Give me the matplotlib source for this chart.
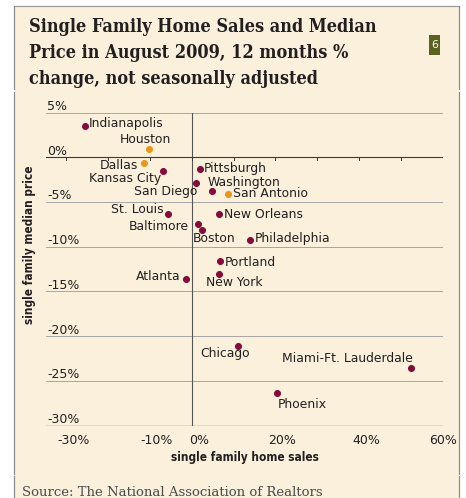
import matplotlib
matplotlib.use("Agg")
import matplotlib.pyplot as plt
from matplotlib.transforms import ScaledTranslation
from matplotlib.lines import Line2D
from matplotlib.patches import Rectangle

# data: 12-month % change, August 2009
cities = ["Indianapolis", "Houston", "Dallas", "Kansas City", "San Diego",
          "Pittsburgh", "Washington", "San Antonio", "St. Louis", "New Orleans",
          "Baltimore", "Boston", "Philadelphia", "Portland", "New York",
          "Atlanta", "Chicago", "Miami-Ft. Lauderdale", "Phoenix"]
sales = [-25.6, -10.1, -11.5, -6.8, 1.0, 2.0, 4.8, 8.7, -5.7, 6.4,
         1.5, 2.5, 13.9, 6.8, 6.4, -1.4, 11.1, 52.3, 20.3]
price = [3.5, 0.9, -0.6, -1.5, -2.9, -1.3, -3.8, -4.1, -6.3, -6.3,
         -7.5, -8.1, -9.3, -11.6, -13.1, -13.6, -21.1, -23.6, -26.4]
texas = ["Houston", "Dallas", "San Antonio"]

x_ticks = [-30, -10, 0, 20, 40, 60]
x_minor = [-30, -20, -10, 0, 10, 20, 30, 40, 50, 60]
y_ticks = [5, 0, -5, -10, -15, -20, -25, -30]

# label offsets in px (dx, dy, ha, va)
label_pos = {
    "Indianapolis": (4, 2, "left", "center"),
    "Houston": (-4, 10, "center", "center"),
    "Dallas": (-5, -3, "right", "center"),
    "Kansas City": (-2, -8, "right", "center"),
    "San Diego": (1, -8, "right", "center"),
    "Pittsburgh": (4, 0, "left", "center"),
    "Washington": (-4, 9, "left", "center"),
    "San Antonio": (5, 0, "left", "center"),
    "St. Louis": (-4, 4, "right", "center"),
    "New Orleans": (5, -1, "left", "center"),
    "Baltimore": (-9, -2, "right", "center"),
    "Boston": (-9, -9, "left", "center"),
    "Philadelphia": (5, 2, "left", "center"),
    "Portland": (5, -2, "left", "center"),
    "New York": (-13, -8, "left", "center"),
    "Atlanta": (-5, 2, "right", "center"),
    "Chicago": (-13, -8, "center", "center"),
    "Miami-Ft. Lauderdale": (2, 10, "right", "center"),
    "Phoenix": (1, -11, "left", "center"),
}

MAROON = "#840c3c"
ORANGE = "#e8961c"
BG = "#faf0dc"
TEXT = "#231f20"

W, H = 466, 498
fig = plt.figure(figsize=(W / 72, H / 72), dpi=72, facecolor="white")


def fx(px):
    return px / W


def fy(py):
    return 1 - py / H


# cream panel and frame
fig.patches.append(Rectangle((fx(14), 0), fx(459) - fx(14), fy(6), transform=fig.transFigure,
                             facecolor=BG, edgecolor="none", zorder=-5))
fig.add_artist(Line2D([fx(14), fx(459)], [fy(6), fy(6)], color="#9a9a9a", lw=1.2))
for x0 in (14, 459):
    for y0, y1 in ((6, 89), (92, 474), (476, 498)):
        fig.add_artist(Line2D([fx(x0), fx(x0)], [fy(y0), fy(y1)], color="#8a8a8a", lw=1.2))

# title
title_lines = ["Single Family Home Sales and Median",
               "Price in August 2009, 12 months %",
               "change, not seasonally adjusted"]
for i, line in enumerate(title_lines):
    fig.text(fx(29), fy(27 + 26 * i), line, fontsize=18, fontweight="bold",
             family="DejaVu Serif", fontstretch="condensed", color=TEXT,
             ha="left", va="center")

fig.patches.append(Rectangle((fx(429), fy(55)), fx(11), fy(35) - fy(55), transform=fig.transFigure,
                             facecolor="#5b611f", edgecolor="none", zorder=2))
fig.text(fx(434.5), fy(45), "6", fontsize=11, color="white", ha="center", va="center", zorder=3)

fig.text(fx(22), fy(492), "Source: The National Association of Realtors", fontsize=13.2,
         family="DejaVu Serif", color="#4a4a4a", ha="left", va="center")

# plot area
ax = fig.add_axes([fx(46), fy(425.5), fx(443) - fx(46), fy(112.5) - fy(425.5)])
ax.set_zorder(1)
ax.set_facecolor("none")
ax.set_xlim(-34.8, 60)
ax.set_ylim(-30, 5)
for s in ax.spines.values():
    s.set_visible(False)

for v in y_ticks:
    if v == 0:
        ax.axhline(v, color="#3a3a3a", lw=1.1, zorder=1)
    elif v == -30:
        ax.axhline(v, color="#1a1a1a", lw=1.2, zorder=1)
    else:
        ax.axhline(v, color="#a8a8a8", lw=1.0, zorder=1)
ax.plot([0, 0], [-30, 5], color="#555555", lw=1.1, zorder=1)
for v in x_minor:
    ax.plot([v, v], [0, -0.35], color="#3a3a3a", lw=1.0, zorder=1)

ax.set_xticks(x_ticks)
ax.set_xticklabels([f"{v}%" for v in x_ticks])
ax.tick_params(axis="x", length=0, pad=8, labelsize=12.5, labelcolor=TEXT)
ax.set_yticks([])
for i, lab in enumerate(ax.get_xticklabels()):
    dx = 0 if i == len(x_ticks) - 1 else 7
    lab.set_transform(lab.get_transform() + ScaledTranslation(dx / 72, 0, fig.dpi_scale_trans))

for v in y_ticks:
    ax.annotate(f"{v}%", xy=(0, v), xycoords=("axes fraction", "data"),
                xytext=(1, 6), textcoords="offset points", fontsize=12.5,
                color=TEXT, ha="left", va="center", annotation_clip=False)

ax.set_xlabel("single family home sales", fontsize=11.8, fontweight="bold",
              fontstretch="condensed", color=TEXT, labelpad=5)
fig.text(fx(30), fy(245), "single family median price", fontsize=11.8, fontweight="bold",
         fontstretch="condensed", color=TEXT, rotation=90, ha="center", va="center")

for name, xv, yv in zip(cities, sales, price):
    c = ORANGE if name in texas else MAROON
    ax.plot(xv, yv, "o", ms=6, color=c, zorder=3, clip_on=False)
    dx, dy, ha, va = label_pos[name]
    ax.annotate(name, (xv, yv), xytext=(dx, dy), textcoords="offset points",
                fontsize=12.4, color=TEXT, ha=ha, va=va, annotation_clip=False)

fig.savefig("out.png", dpi=72, facecolor="white")
